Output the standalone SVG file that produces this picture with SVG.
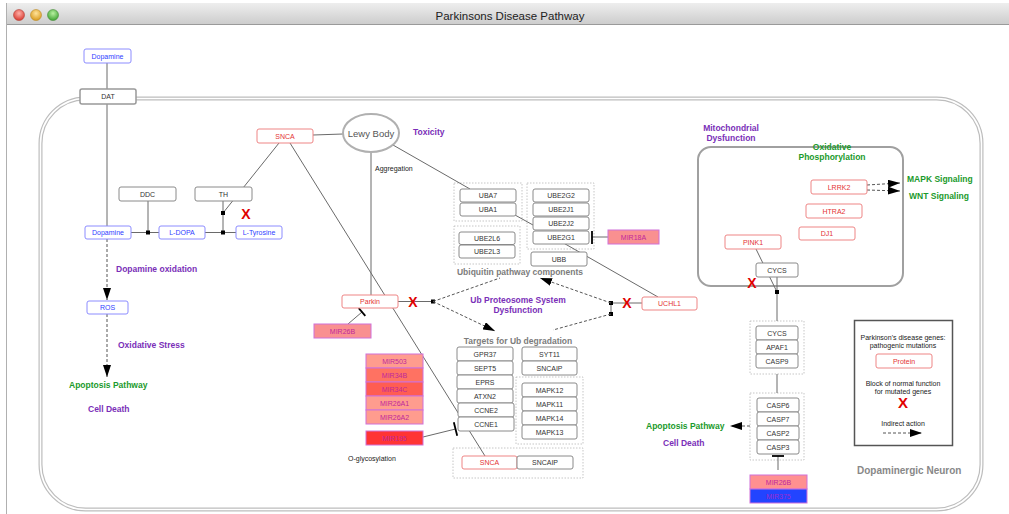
<svg xmlns="http://www.w3.org/2000/svg" width="1009" height="514" viewBox="0 0 1009 514">
<defs>
  <linearGradient id="titlebar" x1="0" y1="0" x2="0" y2="1">
    <stop offset="0" stop-color="#eeeeee"/>
    <stop offset="1" stop-color="#cdcdcd"/>
  </linearGradient>
  <radialGradient id="btnRed" cx="0.5" cy="0.35" r="0.65">
    <stop offset="0" stop-color="#ffb0a8"/><stop offset="1" stop-color="#d8382e"/>
  </radialGradient>
  <radialGradient id="btnYellow" cx="0.5" cy="0.35" r="0.65">
    <stop offset="0" stop-color="#ffe39a"/><stop offset="1" stop-color="#d99a1c"/>
  </radialGradient>
  <radialGradient id="btnGreen" cx="0.5" cy="0.35" r="0.65">
    <stop offset="0" stop-color="#b8f0a0"/><stop offset="1" stop-color="#3ea332"/>
  </radialGradient>
  <marker id="arrow" viewBox="0 0 12 8" refX="12" refY="4" markerWidth="12" markerHeight="8" markerUnits="userSpaceOnUse" orient="auto">
    <path d="M0,0 L12,4 L0,8 z" fill="#000"/>
  </marker>
</defs>
<style>
  text { font-family: "Liberation Sans", Arial, sans-serif; }
  .n rect { fill: #fff; stroke: #8a8a8a; stroke-width: 1; }
  .n text { font-size: 7px; fill: #333; text-anchor: middle; }
  .r rect { stroke: #ee8585; }
  .r text { fill: #e43434; }
  .b rect { stroke: #8c8cff; }
  .b text { fill: #3040ff; }
  .m rect { stroke: #d070d8; }
  .m text { fill: #c0289c; }
  .grp { fill: none; stroke: #b8b8b8; stroke-width: 0.8; stroke-dasharray: 1.5 1.5; }
  .ln { stroke: #6a6a6a; fill: none; stroke-width: 1; }
  .dash { stroke: #555; fill: none; stroke-width: 1; stroke-dasharray: 3 2; }
  .bar { stroke: #000; stroke-width: 1.8; }
  .dot { fill: #000; }
  .lbl { font-weight: bold; font-size: 8.5px; }
  .mid { text-anchor: middle; }
  .pur { fill: #7a2fb8; }
  .grn { fill: #1b9a2c; }
  .gry { fill: #7c7c7c; }
  .x { font-weight: bold; font-size: 14px; fill: #e00000; text-anchor: middle; }
  .note { font-size: 7px; fill: #222; }
</style>

<!-- window frame -->
<rect x="0" y="0" width="1009" height="514" fill="#fff"/>
<rect x="6" y="3" width="1003" height="21" fill="url(#titlebar)"/>
<line x1="6" y1="24.5" x2="1009" y2="24.5" stroke="#9a9a9a"/>
<line x1="6.5" y1="3" x2="6.5" y2="514" stroke="#b0b0b0"/>
<circle cx="19" cy="15" r="5.5" fill="url(#btnRed)" stroke="#b0443c" stroke-width="0.6"/>
<circle cx="36" cy="15" r="5.5" fill="url(#btnYellow)" stroke="#b88a2c" stroke-width="0.6"/>
<circle cx="53" cy="15" r="5.5" fill="url(#btnGreen)" stroke="#4a8a3c" stroke-width="0.6"/>
<text x="510" y="20" font-size="11.5" fill="#222" text-anchor="middle">Parkinsons Disease Pathway</text>

<!-- cell membrane (double line) -->
<g id="membrane">
  <rect x="40.5" y="98.5" width="941" height="411" rx="45" fill="none" stroke="#bdbdbd" stroke-width="4"/>
  <rect x="40.5" y="98.5" width="941" height="411" rx="45" fill="none" stroke="#fff" stroke-width="1.6"/>
</g>

<!-- mitochondrion -->
<g id="mitochondrion">
  <rect x="698" y="147" width="205" height="139" rx="13" fill="none" stroke="#a0a0a0" stroke-width="2"/>
</g>

<!-- complex outlines -->
<g id="complexes">
  <rect class="grp" x="454" y="183" width="68" height="38"/>
  <rect class="grp" x="527" y="183" width="67" height="66"/>
  <rect class="grp" x="454" y="226" width="66" height="38"/>
  <rect class="grp" x="516" y="377" width="67" height="67"/>
  <rect class="grp" x="453" y="448" width="130" height="30"/>
  <rect class="grp" x="750" y="321" width="54" height="53"/>
  <rect class="grp" x="750" y="393" width="54" height="67"/>
</g>

<!-- connectors -->
<g id="connectors">
  <line class="ln" x1="107" y1="63" x2="107" y2="89"/>
  <line class="ln" x1="107" y1="104" x2="107" y2="226"/>
  <line class="ln" x1="313" y1="135" x2="343" y2="134"/>
  <line class="ln" x1="290" y1="143" x2="485" y2="456"/>
  <line class="ln" x1="279" y1="143" x2="223" y2="213"/>
  <line class="ln" x1="371" y1="152" x2="371" y2="295"/>
  <line class="ln" x1="393" y1="145" x2="470" y2="189"/>
  <!-- dopamine synthesis -->
  <line class="ln" x1="131" y1="232.5" x2="159" y2="232.5"/>
  <line class="ln" x1="148" y1="201" x2="148" y2="232.5"/>
  <line class="ln" x1="205" y1="232.5" x2="236" y2="232.5"/>
  <line class="ln" x1="223" y1="201" x2="223" y2="232.5"/>
  <rect class="dot" x="146" y="230.5" width="4" height="4"/>
  <rect class="dot" x="221" y="230.5" width="4" height="4"/>
  <rect class="dot" x="221" y="211" width="4" height="4"/>
  <line class="dash" x1="107" y1="239" x2="107" y2="300" marker-end="url(#arrow)"/>
  <line class="dash" x1="107" y1="314" x2="107" y2="377" marker-end="url(#arrow)"/>
  <!-- ubiquitin system -->
  <line class="ln" x1="398" y1="301.5" x2="433" y2="301.5"/>
  <rect class="dot" x="431" y="299.5" width="4" height="4"/>
  <line class="dash" x1="433" y1="301.5" x2="500" y2="278"/>
  <line class="dash" x1="433" y1="301.5" x2="495" y2="331" marker-end="url(#arrow)"/>
  <line class="ln" x1="642" y1="303" x2="611" y2="303"/>
  <line class="ln" x1="611" y1="303" x2="611" y2="314"/>
  <rect class="dot" x="609" y="301" width="4" height="4"/>
  <rect class="dot" x="609" y="312" width="4" height="4"/>
  <line class="dash" x1="611" y1="303" x2="540" y2="278" marker-end="url(#arrow)"/>
  <line class="dash" x1="611" y1="314" x2="553" y2="330"/>
  <line class="ln" x1="560" y1="241" x2="658" y2="297"/>
  <line class="ln" x1="515" y1="215" x2="533" y2="225"/>
  <!-- microRNA inhibition -->
  <line class="ln" x1="608" y1="237" x2="592" y2="237"/>
  <line class="bar" x1="592" y1="231" x2="592" y2="244"/>
  <line class="ln" x1="348" y1="324" x2="362" y2="312"/>
  <line class="bar" x1="358.7" y1="308.2" x2="365.3" y2="315.8"/>
  <line class="ln" x1="423" y1="437" x2="455.5" y2="429"/>
  <line class="bar" x1="453.8" y1="422.2" x2="457.2" y2="435.8"/>
  <!-- mitochondrial / apoptosis -->
  <line class="ln" x1="756" y1="249" x2="777" y2="292"/>
  <line class="ln" x1="777" y1="277" x2="777" y2="321"/>
  <rect class="dot" x="775" y="290" width="4" height="4"/>
  <line class="ln" x1="777" y1="374" x2="777" y2="393"/>
  <line class="ln" x1="778" y1="456" x2="778" y2="470"/>
  <line class="bar" x1="772" y1="456" x2="784" y2="456"/>
  <line class="dash" x1="750" y1="426" x2="730" y2="426" marker-end="url(#arrow)"/>
  <line class="dash" x1="867" y1="185" x2="900" y2="183" marker-end="url(#arrow)"/>
  <line class="dash" x1="867" y1="190" x2="900" y2="191" marker-end="url(#arrow)"/>
</g>

<!-- nodes -->
<g id="dopamine-ext" class="n b"><rect x="84" y="49" width="47" height="14" rx="2"/><text x="107.5" y="58.5">Dopamine</text></g>
<g id="dat" class="n"><rect x="80" y="89" width="56" height="15" rx="2" style="stroke:#999;stroke-width:1.5"/><text x="108" y="99">DAT</text></g>
<g id="snca-1" class="n r"><rect x="257" y="129" width="56" height="14" rx="2"/><text x="285" y="138.5">SNCA</text></g>
<g id="lewy-body"><ellipse cx="371" cy="133" rx="28" ry="19" fill="#fff" stroke="#b0b0b0" stroke-width="2"/><text x="371" y="136.5" font-size="9.5" fill="#555" text-anchor="middle">Lewy Body</text></g>
<g id="ddc" class="n"><rect x="119" y="187" width="57" height="14" rx="2"/><text x="147.5" y="196.5">DDC</text></g>
<g id="th" class="n"><rect x="195" y="187" width="57" height="14" rx="2"/><text x="223.5" y="196.5">TH</text></g>
<g id="dopamine" class="n b"><rect x="85" y="226" width="46" height="13" rx="2"/><text x="108" y="235">Dopamine</text></g>
<g id="l-dopa" class="n b"><rect x="159" y="226" width="46" height="13" rx="2"/><text x="182" y="235">L-DOPA</text></g>
<g id="l-tyrosine" class="n b"><rect x="236" y="226" width="46" height="13" rx="2"/><text x="259" y="235">L-Tyrosine</text></g>
<g id="ros" class="n b"><rect x="87" y="301" width="41" height="13" rx="2"/><text x="107.5" y="310">ROS</text></g>
<g id="parkin" class="n r"><rect x="342" y="295" width="56" height="13" rx="2"/><text x="370" y="304">Parkin</text></g>
<g id="mir26b-1" class="n m"><rect x="314" y="324" width="57" height="14" style="fill:#f99090"/><text x="342.5" y="333.5">MIR26B</text></g>
<g id="mir503" class="n m"><rect x="366" y="354" width="57" height="14" style="fill:#ff9c8e"/><text x="394.5" y="363.5">MIR503</text></g>
<g id="mir34b" class="n m"><rect x="366" y="368" width="57" height="14" style="fill:#ff7262"/><text x="394.5" y="377.5">MIR34B</text></g>
<g id="mir34c" class="n m"><rect x="366" y="382" width="57" height="14" style="fill:#ff5d52"/><text x="394.5" y="391.5">MIR34C</text></g>
<g id="mir26a1" class="n m"><rect x="366" y="396" width="57" height="14" style="fill:#ff9c8e"/><text x="394.5" y="405.5">MIR26A1</text></g>
<g id="mir26a2" class="n m"><rect x="366" y="410" width="57" height="14" style="fill:#ff9c8e"/><text x="394.5" y="419.5">MIR26A2</text></g>
<g id="mir195" class="n m"><rect x="366" y="431" width="57" height="14" style="fill:#ff3434"/><text x="394.5" y="440.5">MIR195</text></g>
<g id="uba7" class="n"><rect x="460" y="189" width="56" height="13" rx="2"/><text x="488" y="198">UBA7</text></g>
<g id="uba1" class="n"><rect x="460" y="203" width="56" height="13" rx="2"/><text x="488" y="212">UBA1</text></g>
<g id="ube2g2" class="n"><rect x="533" y="189" width="56" height="13" rx="2"/><text x="561" y="198">UBE2G2</text></g>
<g id="ube2j1" class="n"><rect x="533" y="203" width="56" height="13" rx="2"/><text x="561" y="212">UBE2J1</text></g>
<g id="ube2j2" class="n"><rect x="533" y="217" width="56" height="13" rx="2"/><text x="561" y="226">UBE2J2</text></g>
<g id="ube2g1" class="n"><rect x="533" y="231" width="56" height="13" rx="2"/><text x="561" y="240">UBE2G1</text></g>
<g id="ube2l6" class="n"><rect x="459" y="232" width="56" height="12.5" rx="2"/><text x="487" y="240.8">UBE2L6</text></g>
<g id="ube2l3" class="n"><rect x="459" y="245" width="56" height="13" rx="2"/><text x="487" y="254">UBE2L3</text></g>
<g id="ubb" class="n"><rect x="531" y="252" width="56" height="14" rx="2"/><text x="559" y="261.5">UBB</text></g>
<g id="mir18a" class="n m"><rect x="608" y="230" width="51" height="14" style="fill:#f99090"/><text x="633.5" y="239.5">MIR18A</text></g>
<g id="uchl1" class="n r"><rect x="642" y="297" width="55" height="13" rx="2"/><text x="669.5" y="306">UCHL1</text></g>
<g id="gpr37" class="n"><rect x="457" y="347" width="56" height="14" rx="2"/><text x="485" y="356.5">GPR37</text></g>
<g id="sept5" class="n"><rect x="457" y="361" width="56" height="14" rx="2"/><text x="485" y="370.5">SEPT5</text></g>
<g id="eprs" class="n"><rect x="457" y="375" width="56" height="14" rx="2"/><text x="485" y="384.5">EPRS</text></g>
<g id="atxn2" class="n"><rect x="457" y="389" width="56" height="14" rx="2"/><text x="485" y="398.5">ATXN2</text></g>
<g id="ccne2" class="n"><rect x="458" y="403" width="56" height="14" rx="2"/><text x="486" y="412.5">CCNE2</text></g>
<g id="ccne1" class="n"><rect x="458" y="417" width="56" height="14" rx="2"/><text x="486" y="426.5">CCNE1</text></g>
<g id="syt11" class="n"><rect x="522" y="347" width="55" height="14" rx="2"/><text x="549.5" y="356.5">SYT11</text></g>
<g id="sncaip-1" class="n"><rect x="522" y="361" width="55" height="14" rx="2"/><text x="549.5" y="370.5">SNCAIP</text></g>
<g id="mapk12" class="n"><rect x="522" y="383" width="55" height="14" rx="2"/><text x="549.5" y="392.5">MAPK12</text></g>
<g id="mapk11" class="n"><rect x="522" y="397" width="55" height="14" rx="2"/><text x="549.5" y="406.5">MAPK11</text></g>
<g id="mapk14" class="n"><rect x="522" y="411" width="55" height="14" rx="2"/><text x="549.5" y="420.5">MAPK14</text></g>
<g id="mapk13" class="n"><rect x="522" y="425" width="55" height="14" rx="2"/><text x="549.5" y="434.5">MAPK13</text></g>
<g id="snca-2" class="n r"><rect x="462" y="456" width="55" height="13" rx="2"/><text x="489.5" y="465">SNCA</text></g>
<g id="sncaip-2" class="n"><rect x="517" y="456" width="56" height="13" rx="2"/><text x="545" y="465">SNCAIP</text></g>
<g id="lrrk2" class="n r"><rect x="811" y="180" width="56" height="14" rx="2"/><text x="839" y="189.5">LRRK2</text></g>
<g id="htra2" class="n r"><rect x="806" y="204" width="56" height="14" rx="2"/><text x="834" y="213.5">HTRA2</text></g>
<g id="dj1" class="n r"><rect x="799" y="227" width="56" height="13" rx="2"/><text x="827" y="236">DJ1</text></g>
<g id="pink1" class="n r"><rect x="725" y="235" width="56" height="14" rx="2"/><text x="753" y="244.5">PINK1</text></g>
<g id="cycs-mito" class="n"><rect x="756" y="263" width="42" height="14" rx="2"/><text x="777" y="272.5">CYCS</text></g>
<g id="cycs" class="n"><rect x="756" y="326" width="42" height="14" rx="2"/><text x="777" y="335.5">CYCS</text></g>
<g id="apaf1" class="n"><rect x="756" y="340" width="42" height="14" rx="2"/><text x="777" y="349.5">APAF1</text></g>
<g id="casp9" class="n"><rect x="756" y="354" width="42" height="14" rx="2"/><text x="777" y="363.5">CASP9</text></g>
<g id="casp6" class="n"><rect x="757" y="398" width="42" height="14" rx="2"/><text x="778" y="407.5">CASP6</text></g>
<g id="casp7" class="n"><rect x="757" y="412" width="42" height="14" rx="2"/><text x="778" y="421.5">CASP7</text></g>
<g id="casp2" class="n"><rect x="757" y="426" width="42" height="14" rx="2"/><text x="778" y="435.5">CASP2</text></g>
<g id="casp3" class="n"><rect x="757" y="440" width="42" height="14" rx="2"/><text x="778" y="449.5">CASP3</text></g>
<g id="mir26b-2" class="n m"><rect x="750" y="475" width="57" height="14" style="fill:#ff9090"/><text x="778.5" y="484.5">MIR26B</text></g>
<g id="mir375" class="n m"><rect x="750" y="489" width="57" height="14" style="fill:#2244ff"/><text x="778.5" y="498.5" style="fill:#9a2ad0">MIR375</text></g>

<!-- block marks -->
<g id="blocks">
  <text class="x" x="246" y="219">X</text>
  <text class="x" x="413" y="307">X</text>
  <text class="x" x="627" y="308">X</text>
  <text class="x" x="752" y="288">X</text>
</g>

<!-- process labels -->
<g id="labels">
  <text class="lbl pur" x="413" y="135">Toxicity</text>
  <text class="note" x="375" y="170.5">Aggregation</text>
  <text class="lbl pur" x="116" y="272">Dopamine oxidation</text>
  <text class="lbl pur" x="118" y="348">Oxidative Stress</text>
  <text class="lbl grn" x="69" y="388">Apoptosis Pathway</text>
  <text class="lbl pur" x="88" y="412">Cell Death</text>
  <text class="lbl gry mid" x="520" y="275">Ubiquitin pathway components</text>
  <text class="lbl pur mid" x="518" y="303">Ub Proteosome System</text>
  <text class="lbl pur mid" x="518" y="312.5">Dysfunction</text>
  <text class="lbl gry mid" x="518" y="344">Targets for Ub degradation</text>
  <text class="note" x="348" y="460.5">O-glycosylation</text>
  <text class="lbl pur mid" x="731" y="131">Mitochondrial</text>
  <text class="lbl pur mid" x="731" y="141">Dysfunction</text>
  <text class="lbl grn mid" x="832" y="150">Oxidative</text>
  <text class="lbl grn mid" x="832" y="160">Phosphorylation</text>
  <text class="lbl grn" x="907" y="182">MAPK Signaling</text>
  <text class="lbl grn" x="909" y="199">WNT Signaling</text>
  <text class="lbl grn" x="646" y="429">Apoptosis Pathway</text>
  <text class="lbl pur" x="663" y="446">Cell Death</text>
  <text x="857" y="473.5" font-size="10" font-weight="bold" fill="#888">Dopaminergic Neuron</text>
</g>

<!-- legend -->
<g id="legend">
  <rect x="854.5" y="320.5" width="98" height="125" fill="#fff" stroke="#555" stroke-width="1.5"/>
  <text class="note mid" x="903" y="339.5">Parkinson's disease genes:</text>
  <text class="note mid" x="903" y="347.5">pathogenic mutations</text>
  <g class="n r"><rect x="876" y="354" width="56" height="14" rx="2"/><text x="904" y="363.5">Protein</text></g>
  <text class="note mid" x="903" y="385.5">Block of normal function</text>
  <text class="note mid" x="903" y="393.5">for mutated genes</text>
  <text class="x" x="903" y="408" style="font-size:15px">X</text>
  <text class="note mid" x="903" y="425.5">Indirect action</text>
  <line class="dash" x1="883" y1="433" x2="922" y2="433" marker-end="url(#arrow)"/>
</g>
</svg>
